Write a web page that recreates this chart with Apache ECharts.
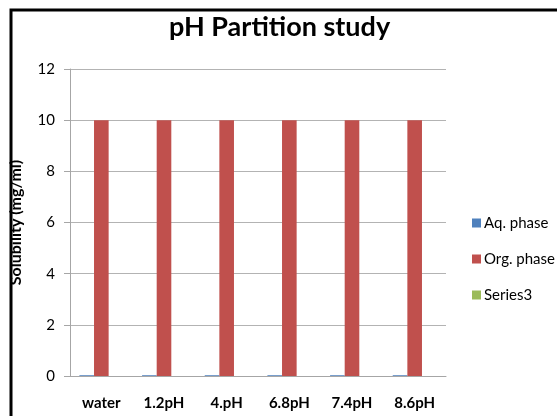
<!DOCTYPE html>
<html><head><meta charset="utf-8">
<script src="https://cdn.jsdelivr.net/npm/echarts@6/dist/echarts.min.js"></script>
<style>html,body{margin:0;padding:0;background:#fff}#c{width:557px;height:416px}</style>
</head><body><div id="c"></div>
<script>
var categories = ['water', '1.2pH', '4.pH', '6.8pH', '7.4pH', '8.6pH'];
var aqPhase = [0.03, 0.03, 0.03, 0.03, 0.03, 0.03];
var orgPhase = [10, 10, 10, 10, 10, 10];
var series3 = [0, 0, 0, 0, 0, 0];
var seriesNames = ['Aq. phase', 'Org. phase', 'Series3'];
var yTicks = [0, 2, 4, 6, 8, 10, 12];

var FONT = 'Lato';
var chart = echarts.init(document.getElementById('c'), null, {renderer: 'canvas'});
chart.setOption({
  animation: false,
  backgroundColor: '#ffffff',
  textStyle: {fontFamily: FONT},
  title: {
    text: 'pH Partition study',
    left: 164,
    top: 9,
    textStyle: {fontFamily: FONT, fontSize: 27, fontWeight: 'bold', color: '#000'}
  },
  graphic: [{
    type: 'rect', silent: true,
    shape: {x: 11, y: 10, width: 700, height: 600},
    style: {fill: 'none', stroke: '#000', lineWidth: 3}
  }],
  legend: {
    orient: 'vertical',
    left: 467,
    top: 210,
    itemWidth: 9,
    itemHeight: 9,
    itemGap: 20,
    icon: 'rect',
    data: seriesNames,
    textStyle: {fontFamily: FONT, fontSize: 15, color: '#000', lineHeight: 16, padding: [0, 0, 0, -2]}
  },
  grid: {left: 69, right: 111, top: 69, bottom: 40, containLabel: false},
  xAxis: {
    type: 'category',
    data: categories,
    axisLine: {lineStyle: {color: '#a6a6a6', width: 1}},
    axisTick: {show: false},
    axisLabel: {fontFamily: FONT, fontSize: 15, fontWeight: 'bold', color: '#000', margin: 20}
  },
  yAxis: {
    type: 'value',
    min: 0, max: 12, interval: 2,
    name: 'Solubility (mg/ml)',
    nameLocation: 'middle',
    nameRotate: 90,
    nameGap: 46,
    nameTextStyle: {fontFamily: FONT, fontSize: 16, fontWeight: 'bold', color: '#000'},
    axisLine: {show: true, lineStyle: {color: '#a6a6a6', width: 1}},
    axisTick: {show: true, length: 6, lineStyle: {color: '#a6a6a6'}},
    splitLine: {lineStyle: {color: '#b3b3b3', width: 1}},
    axisLabel: {fontFamily: FONT, fontSize: 15, color: '#000', margin: 15,
      formatter: function (v) { return yTicks.indexOf(v) >= 0 ? String(v) : ''; }}
  },
  series: [
    {name: seriesNames[0], type: 'bar', data: aqPhase, barGap: '0%', barCategoryGap: '30%', itemStyle: {color: '#4f81bd'}},
    {name: seriesNames[1], type: 'bar', data: orgPhase, barGap: '0%', barCategoryGap: '30%', itemStyle: {color: '#c0504d'}},
    {name: seriesNames[2], type: 'bar', data: series3, barGap: '0%', barCategoryGap: '30%', itemStyle: {color: '#9bbb59'}}
  ]
});
</script></body></html>
